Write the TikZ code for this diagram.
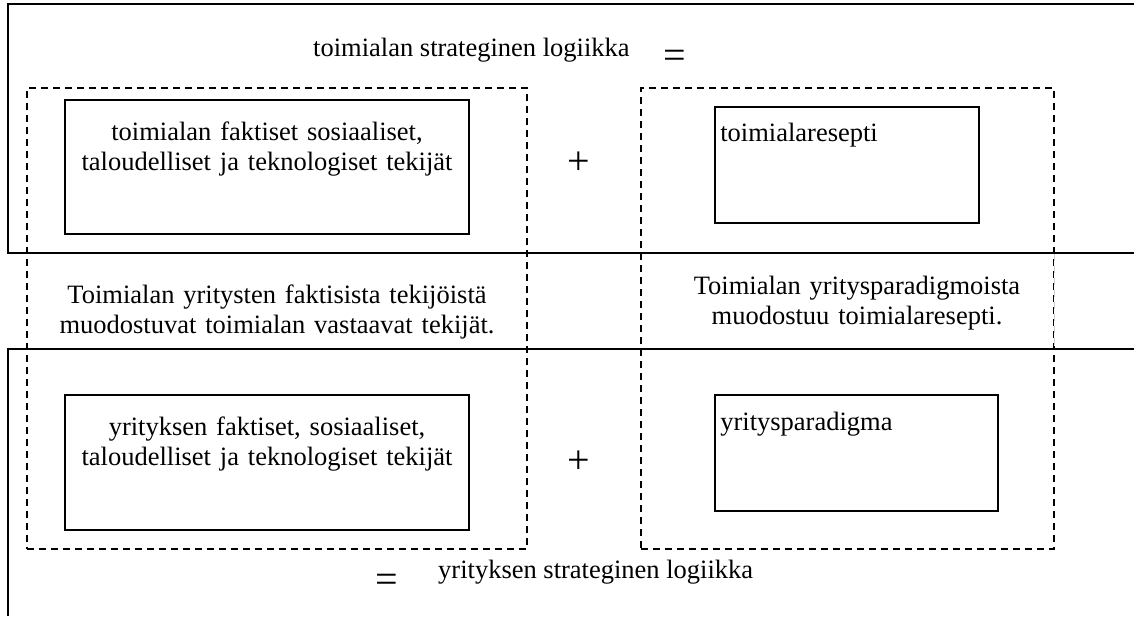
\documentclass[tikz,border=0pt]{standalone}
\usepackage{fontspec}
\setmainfont{Liberation Serif}
\usetikzlibrary{calc}
\begin{document}
\begin{tikzpicture}[x=1pt,y=-1pt,
  frame/.style={line width=1.8pt},
  dashbox/.style={draw, line width=1.6pt, dash pattern=on 7pt off 5pt,
    inner sep=0pt, rectangle},
  factbox/.style={draw, line width=1.8pt, inner sep=0pt, rectangle},
  txt/.style={inner sep=0pt, font=\fontsize{26.5}{30.5}\selectfont},
  sym/.style={inner sep=0pt, font=\fontsize{40}{44}\selectfont}
]
\useasboundingbox (0,0) rectangle (1134,616);

% the two framed levels: industry (top) and firm (bottom)
\draw[frame] (1134,4) -- (8,4) -- (8,253) -- (1134,253);
\draw[frame] (1134,349) -- (8,349) -- (8,616);

% dashed columns
\node[dashbox, minimum width=500pt, minimum height=461pt] (colL) at (277,318.5) {};
\node[dashbox, minimum width=413pt, minimum height=461pt] (colR) at (847.5,318.5) {};
\draw[white, line width=2.4pt] ($(colR.north east)+(0,167)$) -- ($(colR.north east)+(0,259)$);
\draw[gray!40, line width=1pt, dash pattern=on 7pt off 5pt]
  ($(colR.north east)+(0,167)$) -- ($(colR.north east)+(0,259)$);

% factor and paradigm boxes
\node[factbox, minimum width=404pt, minimum height=134pt] (tl) at (267,167) {};
\node[factbox, minimum width=264pt, minimum height=116pt] (tr) at (847,165) {};
\node[factbox, minimum width=404pt, minimum height=135pt] (bl) at (267,462.5) {};
\node[factbox, minimum width=283pt, minimum height=116pt] (br) at (856.5,453) {};

\node[txt, text width=404pt, align=center, anchor=base] (tltext) at ($(tl.north)+(0,41)$)
  {toimialan faktiset sosiaaliset,\\taloudelliset ja teknologiset tekijät};
\node[txt, anchor=base west] (trtext) at ($(tr.north west)+(6,35)$) {toimialaresepti};
\node[txt, text width=404pt, align=center, anchor=base] (bltext) at ($(bl.north)+(0,41)$)
  {yrityksen faktiset, sosiaaliset,\\taloudelliset ja teknologiset tekijät};
\node[txt, anchor=base west] (brtext) at ($(br.north west)+(6,36)$) {yritysparadigma};

% headings and operators
\node[txt, anchor=base west] (toplogic) at (313,56) {toimialan strateginen logiikka};
\node[sym] (eqtop) at (675,59.5) {=};
\node[sym] (plustop) at (579,163) {+};
\node[sym] (plusbot) at (579,462) {+};
\node[sym] (eqbot) at (387,583.5) {=};
\node[txt, anchor=base west] (botlogic) at (438,578) {yrityksen strateginen logiikka};

% explanations between the levels
\node[txt, text width=480pt, align=center, anchor=base] (midL) at (277,303)
  {Toimialan yritysten faktisista tekijöistä\\muodostuvat toimialan vastaavat tekijät.};
\node[txt, text width=400pt, align=center, anchor=base] (midR) at (857,294)
  {Toimialan yritysparadigmoista\\muodostuu toimialaresepti.};
\end{tikzpicture}
\end{document}
